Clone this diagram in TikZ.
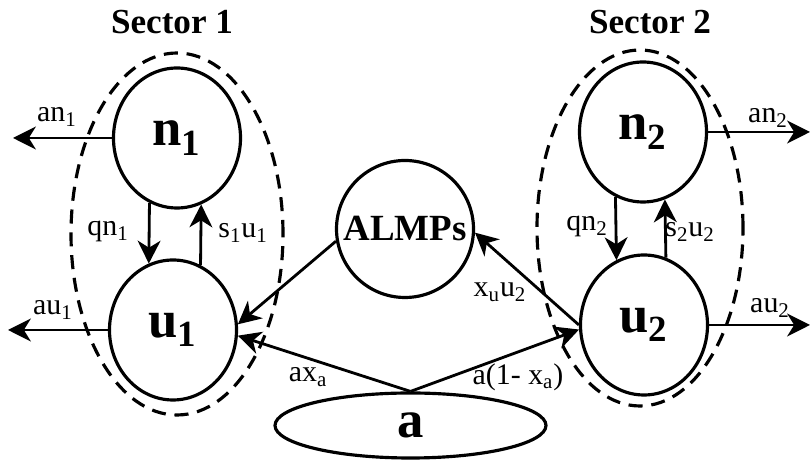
\documentclass[tikz,border=0pt]{standalone}
\usepackage{fontspec}
\setmainfont{Liberation Serif}
\usetikzlibrary{arrows.meta,shapes.geometric}

\begin{document}
\begin{tikzpicture}[>={Stealth[length=13pt,width=13pt,inset=4pt]},every node/.style={font=\fontsize{17}{20}\selectfont},state/.style={draw,ellipse,line width=1.8pt,minimum width=2.54cm,minimum height=2.8cm,inner sep=0pt,font=\fontsize{30}{34}\selectfont\bfseries},flow/.style={->,line width=1.6pt},sector/.style={line width=1.8pt,dash pattern=on 8pt off 5pt}]
\useasboundingbox (0,0) rectangle (16.24,9.24);
\node[font=\fontsize{20}{24}\selectfont\bfseries] (t1) at (3.44,8.80) {Sector 1};\node[font=\fontsize{20}{24}\selectfont\bfseries] (t2) at (13.0,8.80) {Sector 2};
% dashed sector outlines
\draw[sector] (3.54,4.56) ellipse [x radius=2.12,y radius=3.62];\draw[sector] (12.80,4.68) ellipse [x radius=2.06,y radius=3.56];
\node[state] (n1) at (3.54,6.48) {n\textsubscript{1}};\node[state] (u1) at (3.46,2.64) {u\textsubscript{1}};
\node[state] (n2) at (12.86,6.60) {n\textsubscript{2}};\node[state] (u2) at (12.88,2.74) {u\textsubscript{2}};
\node[draw,circle,line width=1.8pt,minimum size=2.74cm,inner sep=0pt,font=\fontsize{21}{25}\selectfont\bfseries] (almp) at (8.10,4.66) {ALMPs};
\node[state,minimum width=5.42cm,minimum height=1.3cm] (a) at (8.21,0.73) {a};
\coordinate (an1e) at (0.26,6.48);\coordinate (au1e) at (0.16,2.64);\coordinate (an2e) at (16.2,6.60);\coordinate (au2e) at (16.2,2.74);
% flows
\draw[flow] (n1) -- (an1e);\draw[flow] (u1) -- (au1e);\draw[flow] (n2) -- (an2e);\draw[flow] (u2) -- (au2e);
\draw[flow] (n1.247) -- (u1.110);\draw[flow] (u1.67) -- (n1.-70);\draw[flow] (n2.247) -- (u2.113);\draw[flow] (u2.72) -- (n2.-72);
\draw[flow] (almp.190) -- (u1.5);\draw[flow] (u2.west) -- (almp.-3);\draw[flow] (a.north) -- (u1.-5);\draw[flow] (a.north) -- (u2.184);
% rates
\node (lan1) at (1.14,6.90) {an\textsubscript{1}};\node (lau1) at (1.06,3.04) {au\textsubscript{1}};\node (lqn1) at (2.16,4.60) {qn\textsubscript{1}};\node (lsu1) at (4.86,4.58) {s\textsubscript{1}u\textsubscript{1}};
\node (lan2) at (15.36,6.88) {an\textsubscript{2}};\node (lau2) at (15.40,3.08) {au\textsubscript{2}};\node (lqn2) at (11.74,4.70) {qn\textsubscript{2}};\node (lsu2) at (13.80,4.60) {s\textsubscript{2}u\textsubscript{2}};
\node (lxu) at (10.00,3.40) {x\textsubscript{u}u\textsubscript{2}};\node (lax) at (6.16,1.70) {ax\textsubscript{a}};\node (lay) at (10.36,1.70) {a(1- x\textsubscript{a})};
\end{tikzpicture}
\end{document}
